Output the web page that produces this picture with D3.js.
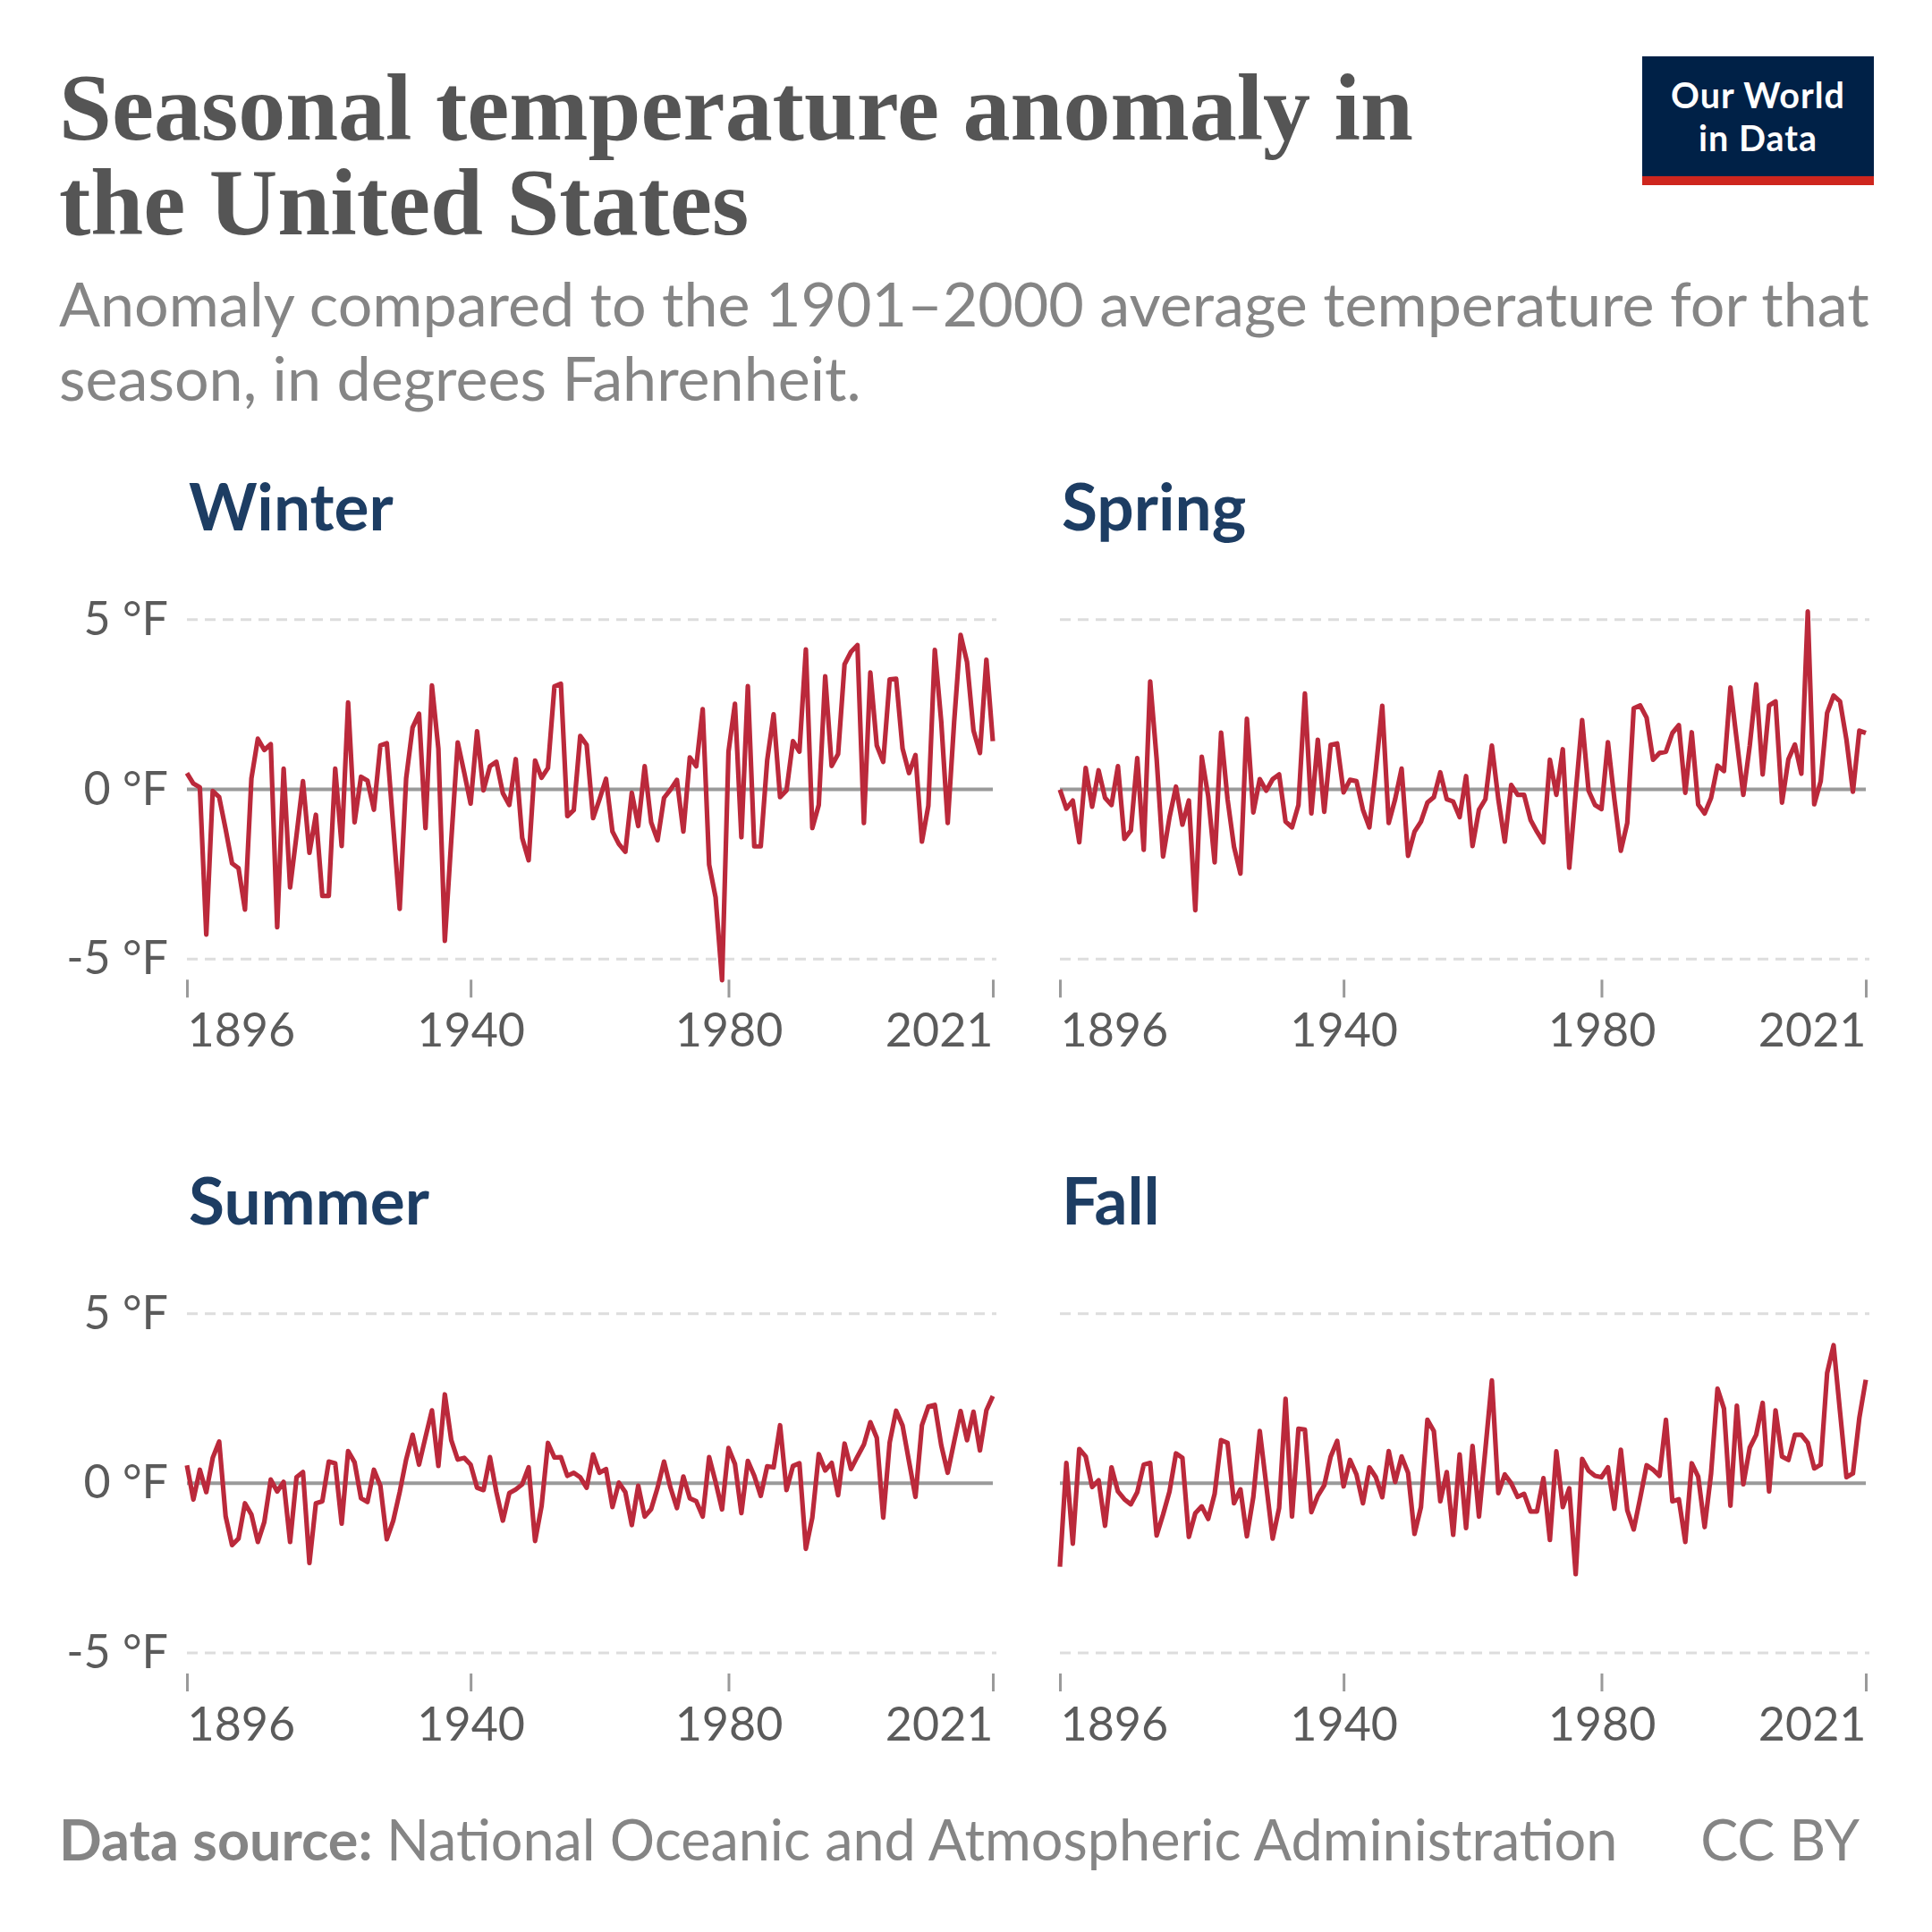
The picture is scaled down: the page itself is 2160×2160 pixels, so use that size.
<!DOCTYPE html>
<html><head><meta charset="utf-8">
<script src="https://cdn.jsdelivr.net/npm/d3@7"></script>
<style>html,body{margin:0;padding:0;background:#fff;}svg{display:block;}</style>
</head><body>
<script>
const years = d3.range(1896, 2022);
const xTicks = [1896, 1940, 1980, 2021];
const yTicks = [-5, 0, 5];
const seasons = ["Winter", "Spring", "Summer", "Fall"];

const winter = [0.48,0.17,0.06,-4.28,-0.05,-0.23,-1.17,-2.18,-2.32,-3.54,
0.32,1.49,1.16,1.33,-4.06,0.61,-2.89,-1.35,0.24,-1.87,
-0.75,-3.14,-3.14,0.61,-1.67,2.56,-0.97,0.37,0.26,-0.6,
1.29,1.36,-1.1,-3.52,0.32,1.82,2.23,-1.14,3.06,1.2,
-4.46,-1.5,1.38,0.5,-0.42,1.71,-0.03,0.68,0.81,-0.11,
-0.46,0.89,-1.43,-2.09,0.85,0.34,0.63,3.03,3.11,-0.79,
-0.61,1.57,1.31,-0.85,-0.29,0.31,-1.24,-1.61,-1.84,-0.1,
-1.08,0.68,-0.97,-1.5,-0.25,-0.01,0.28,-1.24,0.94,0.68,
2.36,-2.22,-3.18,-5.62,1.11,2.52,-1.41,3.04,-1.68,-1.68,
0.85,2.21,-0.23,-0.03,1.42,1.11,4.12,-1.14,-0.46,3.33,
0.69,1.04,3.68,4.05,4.25,-0.99,3.44,1.29,0.81,3.24,
3.26,1.2,0.48,1.01,-1.54,-0.48,4.11,1.99,-0.99,1.99,
4.55,3.75,1.73,1.07,3.82,1.42];

const spring = [-0.01,-0.57,-0.33,-1.56,0.63,-0.51,0.56,-0.25,-0.46,0.68,
-1.46,-1.21,0.92,-1.78,3.18,0.9,-1.98,-0.82,0.08,-1.04,
-0.33,-3.56,0.96,-0.2,-2.15,1.67,-0.29,-1.69,-2.48,2.08,
-0.68,0.3,-0.04,0.3,0.44,-0.95,-1.12,-0.46,2.82,-0.71,
1.46,-0.66,1.31,1.35,-0.09,0.28,0.24,-0.6,-1.12,0.59,
2.46,-0.99,-0.29,0.61,-1.96,-1.25,-0.95,-0.39,-0.23,0.5,
-0.29,-0.36,-0.82,0.39,-1.67,-0.6,-0.29,1.29,-0.29,-1.54,
0.13,-0.16,-0.16,-0.9,-1.25,-1.56,0.87,-0.16,1.18,-2.31,
-0.11,2.04,-0.04,-0.46,-0.58,1.39,-0.29,-1.81,-0.99,2.39,
2.47,2.11,0.87,1.07,1.11,1.66,1.89,-0.1,1.68,-0.45,
-0.71,-0.25,0.7,0.54,3.0,1.42,-0.16,1.29,3.09,0.44,
2.47,2.59,-0.39,0.89,1.32,0.46,5.24,-0.44,0.24,2.25,
2.76,2.59,1.46,-0.07,1.73,1.66];

const summer = [0.53,-0.48,0.4,-0.26,0.75,1.23,-0.97,-1.82,-1.63,-0.59,
-0.92,-1.73,-1.14,0.11,-0.24,0.04,-1.73,0.18,0.33,-2.35,
-0.59,-0.53,0.64,0.59,-1.19,0.95,0.62,-0.44,-0.55,0.4,
-0.07,-1.65,-1.1,-0.26,0.7,1.43,0.55,1.36,2.15,0.51,
2.62,1.27,0.7,0.75,0.55,-0.13,-0.2,0.77,-0.26,-1.1,
-0.29,-0.18,-0.03,0.47,-1.7,-0.68,1.19,0.76,0.77,0.22,
0.31,0.18,-0.13,0.85,0.31,0.42,-0.7,0.02,-0.26,-1.23,
-0.07,-0.98,-0.76,-0.13,0.64,-0.13,-0.73,0.2,-0.44,-0.53,
-0.98,0.77,0.04,-0.77,1.04,0.57,-0.88,0.66,0.22,-0.37,
0.5,0.47,1.71,-0.2,0.51,0.59,-1.93,-1.01,0.86,0.38,
0.6,-0.35,1.17,0.42,0.79,1.14,1.8,1.34,-1.01,1.2,
2.14,1.7,0.64,-0.4,1.71,2.26,2.31,1.12,0.31,1.23,
2.13,1.27,2.11,0.97,2.15,2.57];

const fall = [-2.46,0.6,-1.78,1.01,0.79,-0.11,0.09,-1.25,0.47,-0.24,
-0.47,-0.62,-0.26,0.55,0.6,-1.54,-0.92,-0.24,0.88,0.75,
-1.58,-0.88,-0.68,-1.05,-0.31,1.27,1.19,-0.59,-0.18,-1.56,
-0.4,1.54,-0.04,-1.63,-0.73,2.49,-0.98,1.61,1.58,-0.85,
-0.37,-0.06,0.79,1.25,-0.09,0.69,0.26,-0.59,0.47,0.18,
-0.41,0.95,0.04,0.79,0.31,-1.49,-0.7,1.87,1.54,-0.53,
0.33,-1.52,0.85,-1.32,1.1,-0.98,1.01,3.03,-0.29,0.26,
0,-0.4,-0.31,-0.83,-0.83,0.15,-1.67,0.94,-0.7,-0.15,
-2.68,0.72,0.37,0.22,0.18,0.47,-0.75,0.99,-0.79,-1.36,
-0.44,0.53,0.4,0.22,1.87,-0.53,-0.47,-1.73,0.59,0.2,
-1.29,0.29,2.79,2.2,-0.66,2.29,-0.03,1.05,1.43,2.37,
-0.24,2.15,0.79,0.69,1.43,1.43,1.19,0.44,0.55,3.25,
4.07,2.11,0.18,0.29,1.93,3.05];

const seriesValues = [winter, spring, summer, fall];

const W = 2160, H = 2160;
const svg = d3.select("body").append("svg").attr("width", W).attr("height", H);
svg.append("rect").attr("width", W).attr("height", H).attr("fill", "#fff");

const SANS = "Lato, 'Noto Sans', sans-serif";

function fitWidth(sel, target) {
  const w = sel.node().getComputedTextLength();
  const fs = parseFloat(sel.attr("font-size"));
  const nf = fs * target / w;
  sel.attr("font-size", nf);
  return nf;
}

// Title
const t1 = svg.append("text").attr("x", 66).attr("y", 156)
  .attr("font-family", "'Liberation Serif', 'DejaVu Serif', serif").attr("font-weight", 700)
  .attr("font-size", 100).attr("fill", "#555").text("Seasonal temperature anomaly in");
const tfs = fitWidth(t1, 1514);
svg.append("text").attr("x", 66).attr("y", 262)
  .attr("font-family", "'Liberation Serif', 'DejaVu Serif', serif").attr("font-weight", 700)
  .attr("font-size", tfs).attr("fill", "#555").text("the United States");

// Subtitle
const s1 = svg.append("text").attr("x", 66).attr("y", 365)
  .attr("font-family", SANS).attr("font-size", 62).attr("fill", "#858585")
  .text("Anomaly compared to the 1901–2000 average temperature for that");
const sfs = fitWidth(s1, 2024);
svg.append("text").attr("x", 66).attr("y", 448)
  .attr("font-family", SANS).attr("font-size", sfs).attr("fill", "#858585")
  .text("season, in degrees Fahrenheit.");

// Logo
const logo = svg.append("g");
logo.append("rect").attr("x", 1836).attr("y", 63).attr("width", 259).attr("height", 144).attr("fill", "#002147");
logo.append("rect").attr("x", 1836).attr("y", 197).attr("width", 259).attr("height", 10).attr("fill", "#ce261e");
logo.append("text").attr("x", 1965.5).attr("y", 121).attr("text-anchor", "middle")
  .attr("font-family", SANS).attr("font-weight", 700).attr("font-size", 39.5).attr("letter-spacing", 1)
  .attr("fill", "#fff").text("Our World");
logo.append("text").attr("x", 1965.5).attr("y", 169).attr("text-anchor", "middle")
  .attr("font-family", SANS).attr("font-weight", 700).attr("font-size", 39.5).attr("letter-spacing", 1)
  .attr("fill", "#fff").text("in Data");

// Panels
const cols = [[209, 1110], [1185, 2086]];
const rows = [[692.7, 1072.3], [1468.7, 1848]];

seasons.forEach((name, k) => {
  const col = cols[k % 2], row = rows[Math.floor(k / 2)];
  const x = d3.scaleLinear().domain([years[0], years[years.length - 1]]).range(col);
  const y = d3.scaleLinear().domain([-5, 5]).range([row[1], row[0]]);
  const g = svg.append("g");

  g.append("text").attr("x", col[0] + 2).attr("y", y(5) - 100)
    .attr("font-family", SANS).attr("font-weight", 700).attr("font-size", 73)
    .attr("fill", "#1d3d63").text(name);

  // grid
  yTicks.forEach(v => {
    if (v === 0) return;
    g.append("line").attr("x1", col[0]).attr("x2", col[1] + 4).attr("y1", y(v)).attr("y2", y(v))
      .attr("stroke", "#dddddd").attr("stroke-width", 3).attr("stroke-dasharray", "12,8");
  });
  g.append("line").attr("x1", col[0]).attr("x2", col[1]).attr("y1", y(0)).attr("y2", y(0))
    .attr("stroke", "#9a9a9a").attr("stroke-width", 4);

  if (k % 2 === 0) {
    yTicks.forEach(v => {
      g.append("text").attr("x", 188).attr("y", y(v) + 17).attr("text-anchor", "end")
        .attr("font-family", SANS).attr("font-size", 52).attr("fill", "#5b5b5b")
        .text(v + " °F");
    });
  }

  // x axis
  const xa = g.append("g").attr("transform", `translate(0,${y(-5) + 23})`)
    .call(d3.axisBottom(x).tickValues(xTicks).tickFormat(d3.format("d")).tickSize(20).tickPadding(22));
  xa.select(".domain").remove();
  xa.selectAll(".tick line").attr("stroke", "#9a9a9a").attr("stroke-width", 3);
  xa.selectAll(".tick text").attr("font-family", SANS).attr("font-size", 52).attr("fill", "#5b5b5b")
    .attr("dy", null).attr("y", 75)
    .attr("text-anchor", d => d === xTicks[0] ? "start" : (d === xTicks[xTicks.length - 1] ? "end" : "middle"));

  const line = d3.line().x((d, i) => x(years[i])).y(d => y(d));
  g.append("path").datum(seriesValues[k]).attr("d", line)
    .attr("fill", "none").attr("stroke", "#bb293b").attr("stroke-width", 5.2)
    .attr("stroke-linejoin", "round").attr("stroke-linecap", "butt");
});

// Footer
const foot = svg.append("text").attr("x", 66).attr("y", 2080)
  .attr("font-family", SANS).attr("font-size", 58).attr("fill", "#858585");
foot.append("tspan").attr("font-weight", 700).text("Data source: ");
foot.append("tspan").text("National Oceanic and Atmospheric Administration");
fitWidth(foot, 1743);
svg.append("text").attr("x", 2079).attr("y", 2080).attr("text-anchor", "end")
  .attr("font-family", SANS).attr("font-size", foot.attr("font-size")).attr("fill", "#858585").text("CC BY");
</script>
</body></html>
